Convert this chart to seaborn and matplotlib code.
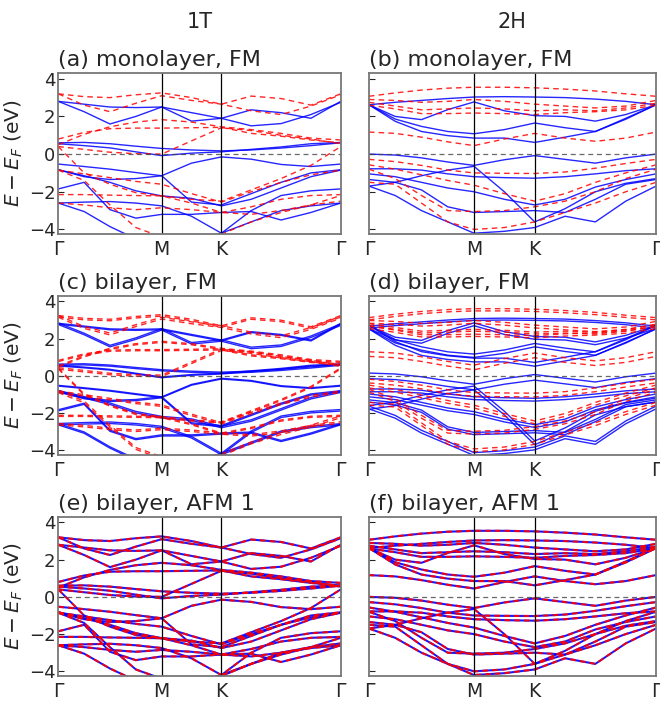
import numpy as np
import pandas as pd
import matplotlib
matplotlib.use("Agg")
import matplotlib.pyplot as plt
import seaborn as sns

# --------------
# k path  G-M-K-G (hexagonal BZ), nodes at which the bands were read
# --------------
k_labels = ["Γ", "M", "K", "Γ"]
seg_len = [np.sqrt(3) / 2, 0.5, 1.0]
seg_frac = [[0, 0.25, 0.5, 0.75], [0, 0.5], [0, 0.25, 0.5, 0.75, 1.0]]

# --------------
# band energies (eV) at the 11 k nodes
# --------------
# 1T monolayer, spin up (blue)
up_1T = [
    [2.80, 2.65, 2.50, 2.47, 2.50, 2.20, 1.90, 2.35, 2.20, 1.90, 2.80],
    [2.80, 2.25, 1.60, 2.00, 2.50, 1.75, 1.90, 1.50, 1.62, 2.10, 2.75],
    [0.60, 0.62, 0.55, 0.42, 0.30, 0.22, 0.17, 0.22, 0.32, 0.45, 0.60],
    [0.55, 0.45, 0.33, 0.12, -0.08, 0.05, 0.12, 0.25, 0.38, 0.55, 0.62],
    [-0.53, -0.66, -0.80, -0.98, -1.15, -0.48, -0.15, -0.27, -0.55, -0.66, -0.53],
    [-0.83, -1.20, -1.35, -1.30, -1.15, -2.55, -2.70, -2.10, -1.50, -1.00, -0.83],
    [-0.83, -1.15, -1.50, -1.95, -2.22, -2.35, -2.75, -2.40, -1.80, -1.20, -0.85],
    [-1.85, -1.50, -2.95, -3.40, -3.20, -3.20, -3.10, -3.05, -3.50, -3.10, -2.60],
    [-2.60, -2.55, -2.52, -2.60, -2.75, -3.30, -4.20, -3.00, -2.20, -1.95, -1.85],
    [-2.60, -3.05, -3.85, -4.50, -4.90, -4.70, -4.20, -3.60, -3.00, -2.75, -2.60],
]
# 1T monolayer, spin down (red)
dn_1T = [
    [3.20, 3.05, 3.00, 3.15, 3.25, 3.00, 2.65, 3.08, 2.95, 2.60, 3.20],
    [3.20, 2.60, 2.25, 2.70, 3.10, 2.85, 2.65, 2.30, 2.10, 2.55, 3.15],
    [0.50, 1.05, 1.45, 1.70, 1.83, 1.70, 1.45, 1.30, 1.10, 0.85, 0.75],
    [0.80, 1.15, 1.35, 1.38, 1.38, 1.40, 1.42, 1.10, 0.95, 0.75, 0.60],
    [0.40, 0.25, 0.10, 0.02, 0.00, 0.70, 1.40, 1.25, 1.00, 0.80, 0.55],
    [0.40, -1.00, -1.60, -2.05, -2.22, -2.40, -2.50, -1.90, -1.30, -0.60, 0.40],
    [-0.85, -1.05, -1.25, -1.45, -1.60, -2.10, -2.55, -2.00, -1.50, -1.10, -0.85],
    [-2.15, -2.15, -2.18, -2.20, -2.22, -2.60, -3.10, -2.80, -2.40, -2.20, -2.15],
    [-0.85, -1.40, -2.70, -3.90, -4.40, -4.50, -4.25, -3.60, -3.10, -2.70, -2.20],
    [-2.60, -2.70, -2.85, -2.95, -2.85, -2.95, -3.10, -3.20, -3.00, -2.70, -2.50],
]
# 2H monolayer, spin up (blue)
up_2H = [
    [2.62, 2.75, 2.85, 2.95, 3.03, 3.05, 3.03, 3.00, 2.92, 2.80, 2.62],
    [2.62, 2.00, 1.83, 2.36, 2.77, 2.30, 2.04, 2.00, 1.75, 2.10, 2.62],
    [2.62, 1.86, 1.47, 1.20, 1.08, 1.30, 1.65, 1.40, 1.20, 1.85, 2.62],
    [2.62, 1.74, 1.20, 0.98, 0.85, 0.85, 0.62, 0.90, 1.20, 1.90, 2.62],
    [0.00, -0.05, -0.20, -0.42, -0.60, -0.30, -0.08, -0.28, -0.48, -0.20, 0.00],
    [-0.78, -0.78, -0.85, -1.05, -1.20, -1.25, -1.28, -1.20, -1.05, -0.88, -0.78],
    [-1.05, -1.20, -1.50, -1.80, -2.00, -2.40, -2.70, -2.40, -1.75, -1.35, -1.05],
    [-1.35, -1.50, -1.90, -2.80, -3.10, -3.05, -3.00, -3.10, -2.40, -1.60, -1.35],
    [-1.70, -1.50, -1.15, -0.85, -0.65, -2.00, -3.60, -2.90, -2.00, -1.55, -1.30],
    [-1.70, -2.20, -3.00, -3.60, -4.20, -4.10, -3.90, -3.30, -3.60, -2.50, -1.70],
]
# 2H monolayer, spin down (red)
dn_2H = [
    [3.07, 3.25, 3.40, 3.50, 3.55, 3.55, 3.52, 3.45, 3.35, 3.20, 3.07],
    [2.90, 2.85, 2.75, 2.80, 2.90, 2.80, 2.65, 2.55, 2.45, 2.55, 2.85],
    [2.75, 2.55, 2.35, 2.40, 2.45, 2.40, 2.30, 2.35, 2.30, 2.45, 2.70],
    [2.60, 2.40, 2.15, 2.15, 2.18, 2.15, 2.10, 2.20, 2.25, 2.35, 2.60],
    [1.17, 1.10, 0.90, 0.65, 0.45, 0.80, 1.10, 0.85, 0.68, 0.85, 1.17],
    [-0.28, -0.40, -0.60, -0.85, -1.00, -1.02, -1.03, -0.95, -0.75, -0.50, -0.28],
    [-0.57, -0.80, -1.10, -1.40, -1.65, -2.10, -2.50, -2.10, -1.50, -1.00, -0.57],
    [-0.80, -1.30, -2.20, -3.00, -3.05, -3.00, -2.80, -2.50, -2.00, -1.30, -0.80],
    [-1.50, -1.60, -2.60, -3.60, -4.00, -3.90, -3.60, -3.10, -2.60, -2.00, -1.50],
]

# interlayer splitting of each band in the bilayers (eV)
split_1T_up = [0.05, 0.08, 0.06, 0.04, 0.04, 0.06, 0.08, 0.06, 0.08, 0.07]
split_1T_dn = [0.08, 0.10, 0.06, 0.06, 0.08, 0.06, 0.08, 0.06, 0.10, 0.08]
split_2H_up = [0.10, 0.15, 0.18, 0.20, 0.30, 0.15, 0.15, 0.12, 0.20, 0.15]
split_2H_dn = [0.12, 0.15, 0.10, 0.12, 0.25, 0.20, 0.15, 0.15, 0.15]
split_afm = 0.04

titles = ["(a) monolayer, FM", "(b) monolayer, FM",
          "(c) bilayer, FM", "(d) bilayer, FM",
          "(e) bilayer, AFM 1", "(f) bilayer, AFM 1"]
col_titles = ["1T", "2H"]

# --------------
# k coordinates
# --------------
tot = sum(seg_len)
k_sym = np.cumsum([0] + seg_len) / tot
k_nodes = []
for i, fr in enumerate(seg_frac):
    for f in fr:
        k_nodes.append(k_sym[i] + f * seg_len[i] / tot)
k_nodes = np.array(k_nodes)


def to_df(bands, splits=None, spread=None):
    rows = []
    for b, e in enumerate(bands):
        e = np.array(e)
        if splits is None and spread is None:
            shifts = [0.0]
        else:
            s = spread if spread is not None else splits[b]
            shifts = [-s / 2, s / 2]
        for j, sh in enumerate(shifts):
            for kk, ee in zip(k_nodes, e + sh):
                rows.append({"k": kk, "E": ee, "band": f"{b}_{j}"})
    return pd.DataFrame(rows)


panels = [
    (to_df(up_1T), to_df(dn_1T)),
    (to_df(up_2H), to_df(dn_2H)),
    (to_df(up_1T, split_1T_up), to_df(dn_1T, split_1T_dn)),
    (to_df(up_2H, split_2H_up), to_df(dn_2H, split_2H_dn)),
    (to_df(up_1T + dn_1T, spread=split_afm),) * 2,
    (to_df(up_2H + dn_2H, spread=split_afm),) * 2,
]

# --------------
# plot
# --------------
sns.set_style("ticks")
plt.rcParams["font.family"] = ["DejaVu Sans"]
plt.rcParams["mathtext.fontset"] = "dejavusans"

fig = plt.figure(figsize=(6.6, 7.01), dpi=100)
col_x = [(0.0883, 0.428), (0.559, 0.435)]
row_y = [(0.666, 0.2297), (0.351, 0.227), (0.0357, 0.227)]

for i, (df_up, df_dn) in enumerate(panels):
    r, c = divmod(i, 2)
    ax = fig.add_axes([col_x[c][0], row_y[r][0], col_x[c][1], row_y[r][1]])
    sns.lineplot(data=df_up, x="k", y="E", units="band", estimator=None,
                 color="blue", lw=1.0, alpha=0.85, ax=ax, legend=False)
    sns.lineplot(data=df_dn, x="k", y="E", units="band", estimator=None,
                 color="red", lw=1.0, alpha=0.85, linestyle=(0, (4, 3)),
                 ax=ax, legend=False)
    for kv in k_sym[1:3]:
        ax.axvline(kv, color="black", lw=0.9)
    ax.axhline(0, color="#444444", lw=0.9, ls=(0, (4, 3)), alpha=0.8)
    ax.set_xlim(0, 1)
    ax.set_ylim(-4.25, 4.3)
    ax.set_xticks(k_sym)
    ax.set_xticklabels(k_labels, fontsize=13.5)
    ax.tick_params(axis="x", length=0, pad=4)
    ax.set_yticks([-4, -2, 0, 2, 4])
    ax.tick_params(axis="y", direction="in", length=4, labelsize=13, pad=2)
    ax.set_xlabel("")
    if c == 0:
        ax.set_yticklabels(["−4", "−2", "0", "2", "4"])
        ax.set_ylabel("$E - E_F$ (eV)", fontsize=14.5)
        ax.yaxis.set_label_coords(-0.118, 0.5)
    else:
        ax.set_yticklabels([])
        ax.set_ylabel("")
    for sp in ax.spines.values():
        sp.set_color("#777777")
        sp.set_linewidth(1.3)
    ax.set_title(titles[i], loc="left", fontsize=16, pad=5, color="#262626")

fig.text(0.303, 0.968, col_titles[0], ha="center", va="center", fontsize=15)
fig.text(0.775, 0.968, col_titles[1], ha="center", va="center", fontsize=15)

fig.savefig("out.png", dpi=100)
